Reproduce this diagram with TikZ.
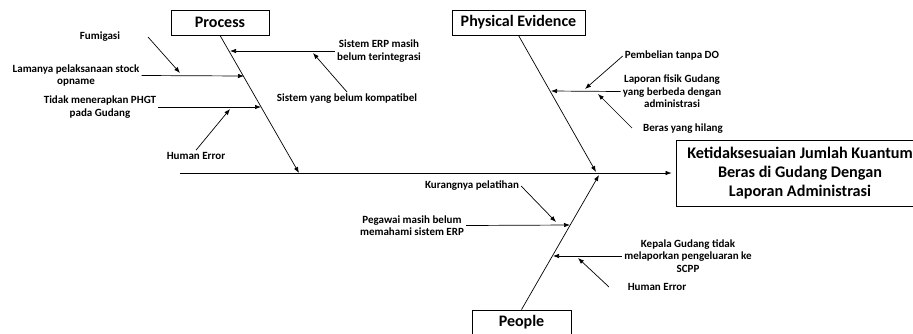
\documentclass[tikz,border=0pt]{standalone}
\usepackage{fontspec}
\setmainfont{Carlito}
\usetikzlibrary{arrows.meta}
\tikzset{
    catbox/.style={draw, line width=0.8pt, inner sep=0pt, minimum height=25pt,
        font=\bfseries\fontsize{16}{19}\selectfont},
    cause/.style={inner sep=2pt, align=center, font=\bfseries\fontsize{11}{12.5}\selectfont},
    arr/.style={-{Latex[length=6pt,width=4.5pt]}, line width=0.7pt},
}
\begin{document}
\begin{tikzpicture}[x=1pt,y=-1pt]
    \useasboundingbox (0,0) rectangle (913,333);
    % head and spine
    \node[draw, line width=0.8pt, minimum width=248pt, minimum height=66pt, align=center,
        font=\bfseries\fontsize{16.2}{19}\selectfont] (effect) at (800,173)
        {Ketidaksesuaian Jumlah Kuantum\\Beras di Gudang Dengan\\Laporan Administrasi};
    \coordinate (tail) at (180,173);
    \draw[arr] (tail) -- ([xshift=-4pt]effect.west);
    % categories
    \node[catbox, minimum width=98pt] (process) at (220,22.5) {Process};
    \node[catbox, minimum width=133pt] (physical) at (518.5,22.5) {Physical Evidence};
    \node[catbox, minimum width=99pt] (people) at (521.5,322.5) {People};
    \coordinate (procTip) at (299,173);
    \coordinate (physTip) at (596,172);
    \coordinate (peopTip) at (599,175);
    \draw[arr] (process.south) -- (procTip);
    \draw[arr] (physical.south) -- (physTip);
    \draw[arr] (people.north) -- (peopTip);
    % process
    \coordinate (p1) at (230,51);
    \coordinate (p2) at (244,76);
    \coordinate (p3) at (261,107);
    \node[cause] (erp) at (379,51) {Sistem ERP masih\\belum terintegrasi};
    \node[cause] (kompatibel) at (347,99) {Sistem yang belum kompatibel};
    \node[cause] (lama) at (76,75.5) {Lamanya pelaksanaan stock\\opname};
    \node[cause] (fumigasi) at (100,37) {Fumigasi};
    \node[cause] (phgt) at (100,107) {Tidak menerapkan PHGT\\pada Gudang};
    \node[cause] (human1) at (196,156) {Human Error};
    \coordinate (fumStart) at (148,37);
    \coordinate (fumTip) at (180,73);
    \coordinate (kompTip) at (313,53);
    \coordinate (humTip1) at (230,109);
    \draw[arr] (erp.west) -- (p1);
    \draw[arr] (kompatibel.north) -- (kompTip);
    \draw[arr] (lama.east) -- (p2);
    \draw[arr] (fumStart) -- (fumTip);
    \draw[arr] (phgt.east) -- (p3);
    \draw[arr] (human1.north) -- (humTip1);
    % physical evidence
    \coordinate (e1) at (551,91);
    \node[cause] (pembelian) at (672,56) {Pembelian tanpa DO};
    \node[cause] (laporan) at (672,91.5) {Laporan fisik Gudang\\yang berbeda dengan\\administrasi};
    \node[cause] (beras) at (683,129) {Beras yang hilang};
    \coordinate (pembTip) at (585,89);
    \coordinate (berasStart) at (632,128);
    \coordinate (berasTip) at (598,94);
    \draw[arr] (laporan.west) -- (e1);
    \draw[arr] (pembelian.west) -- (pembTip);
    \draw[arr] (berasStart) -- (berasTip);
    % people
    \coordinate (h1) at (570,225);
    \coordinate (h2) at (553,256);
    \node[cause] (pelatihan) at (472,186) {Kurangnya pelatihan};
    \node[cause] (pegawai) at (412,225.5) {Pegawai masih belum\\memahami sistem ERP};
    \node[cause] (kepala) at (688,256) {Kepala Gudang tidak\\melaporkan pengeluaran ke\\SCPP};
    \node[cause] (human2) at (657,287) {Human Error};
    \coordinate (pelTip) at (556,222);
    \coordinate (humStart2) at (609,287);
    \coordinate (humTip2) at (578,258);
    \draw[arr] (pegawai.east) -- (h1);
    \draw[arr] (kepala.west) -- (h2);
    \draw[arr] (pelatihan.east) -- (pelTip);
    \draw[arr] (humStart2) -- (humTip2);
\end{tikzpicture}
\end{document}
